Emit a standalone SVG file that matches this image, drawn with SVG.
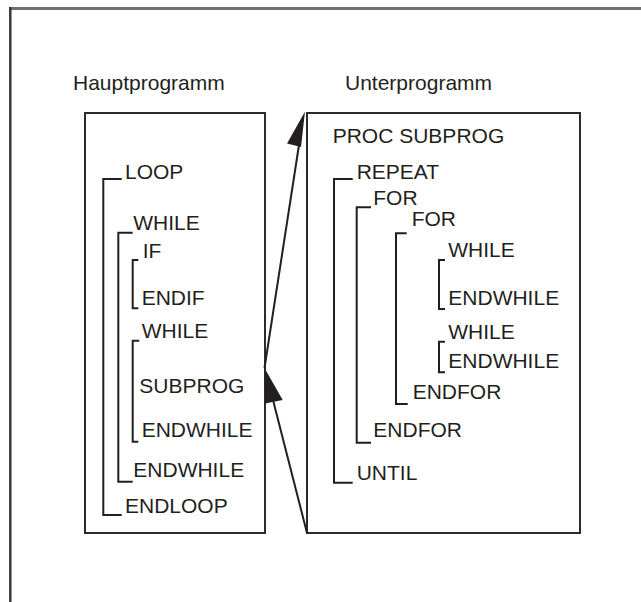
<svg xmlns="http://www.w3.org/2000/svg" width="641" height="602" viewBox="0 0 641 602">
<style>
text{font-family:"Liberation Sans",Arial,sans-serif;font-size:21px;fill:#231f20}
.box{fill:#fff;stroke:#2b2b2b;stroke-width:2}
.br{fill:none;stroke:#231f20;stroke-width:2}
.frame{fill:none}
.shaft{stroke:#231f20;stroke-width:2;fill:none}
.head{fill:#231f20;stroke:none}
</style>
<rect width="641" height="602" fill="#fff"/>
<g id="frame">
<line x1="9" y1="8.5" x2="641" y2="8.5" stroke="#707070" stroke-width="3"/>
<line x1="10.3" y1="7" x2="10.3" y2="602" stroke="#3a3a3a" stroke-width="2.5"/>
</g>
<g id="titles">
<text x="73" y="90">Hauptprogramm</text>
<text x="345" y="90">Unterprogramm</text>
</g>
<g id="hauptprogramm">
<rect class="box" x="85" y="113" width="180" height="420"/>
<path class="br" d="M121.7,179H103.3V515H121.7"/>
<path class="br" d="M132.7,232.7H118.3V481.7H132.7"/>
<path class="br" d="M138.3,260H132.7V308.3H138.3"/>
<path class="br" d="M139.3,340.7H132.7V441.7H138.3"/>
<text x="125" y="179">LOOP</text>
<text x="133.3" y="230">WHILE</text>
<text x="142.7" y="258.3">IF</text>
<text x="141.7" y="305">ENDIF</text>
<text x="141.7" y="338.3">WHILE</text>
<text x="139.3" y="392.7">SUBPROG</text>
<text x="141.7" y="437.3">ENDWHILE</text>
<text x="133.3" y="476.7">ENDWHILE</text>
<text x="125" y="512.7">ENDLOOP</text>
</g>
<g id="unterprogramm">
<rect class="box" x="307" y="113" width="273" height="420"/>
<text x="332.7" y="143.3">PROC SUBPROG</text>
<path class="br" d="M352.7,179H334V482.7H352.7"/>
<path class="br" d="M371,207.3H356.7V442.7H371"/>
<path class="br" d="M406.7,233.3H396V404H407.7"/>
<path class="br" d="M445,260H439V309H445"/>
<path class="br" d="M445,341.7H439V372.3H445"/>
<text x="356.7" y="179">REPEAT</text>
<text x="373.3" y="205">FOR</text>
<text x="411.7" y="226">FOR</text>
<text x="448.3" y="257.3">WHILE</text>
<text x="448.3" y="305">ENDWHILE</text>
<text x="448.3" y="339">WHILE</text>
<text x="448.3" y="368.3">ENDWHILE</text>
<text x="412.7" y="399.3">ENDFOR</text>
<text x="373.3" y="437.3">ENDFOR</text>
<text x="356.7" y="480">UNTIL</text>
</g>
<g id="connectors">
<line class="shaft" x1="264.5" y1="368" x2="299" y2="145"/>
<polygon class="head" points="305,111.5 287,143.5 301,147"/>
<line class="shaft" x1="307" y1="533" x2="273" y2="400"/>
<polygon class="head" points="264.5,368 265,403.5 282.7,400"/>
</g>
</svg>
